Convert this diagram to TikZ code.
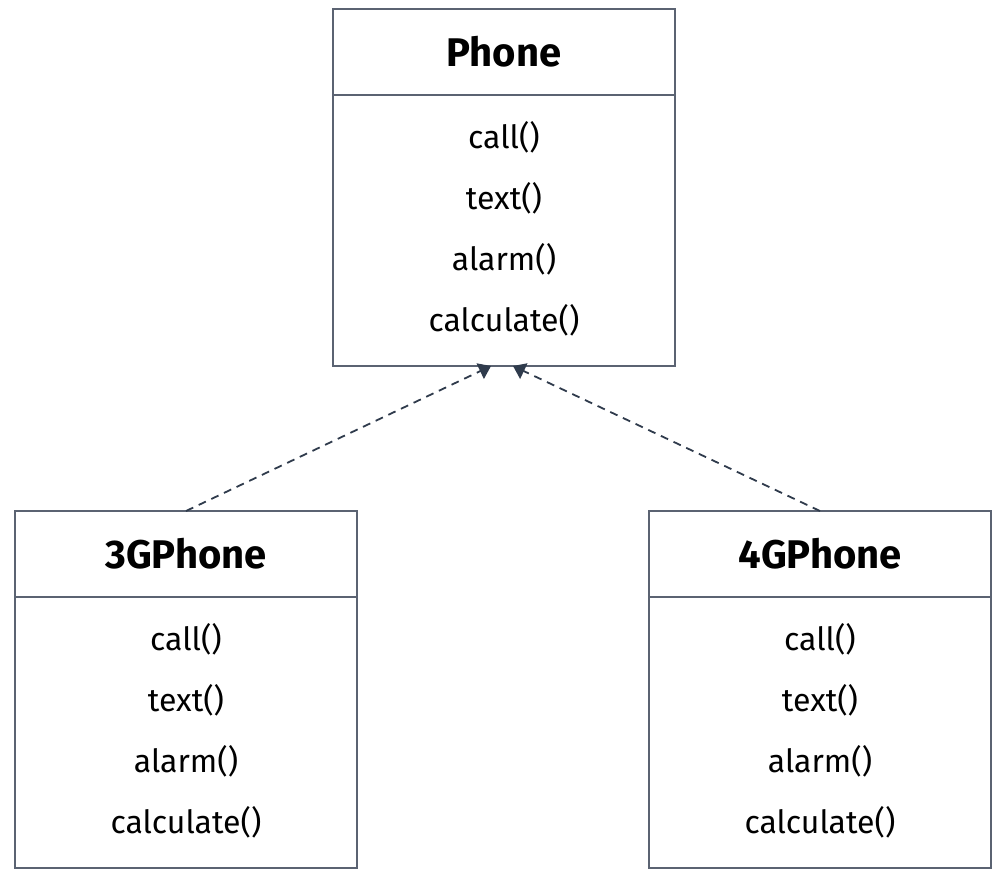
\documentclass[tikz,border=0pt]{standalone}
\usepackage{fontspec}
\setmainfont{Fira Sans}
\usetikzlibrary{positioning, arrows.meta, calc}

\begin{document}
\begin{tikzpicture}[x=0.5pt, y=-0.5pt,
    classhead/.style={draw=boxgray, line width=1pt, minimum width=171pt, minimum height=43pt,
        inner sep=0pt, outer sep=0pt, font=\fontsize{20}{24}\selectfont\bfseries},
    classbody/.style={draw=boxgray, line width=1pt, minimum width=171pt, minimum height=135.5pt,
        inner sep=0pt, outer sep=0pt},
    method/.style={font=\fontsize{16}{19}\selectfont},
    realize/.style={dashed, dash pattern=on 4pt off 3pt, line width=0.9pt, draw=arrowgray,
        -{Triangle[length=6pt, width=8.5pt]}}]
        % Định nghĩa màu sắc
        \definecolor{boxgray}{RGB}{91, 99, 114}
        \definecolor{arrowgray}{RGB}{47, 59, 76}

        \useasboundingbox (0,0) rectangle (1005,878);

        % 1. Lớp cha Phone
        \node[classhead] (phone) at (504, 52) {Phone};
        \node[classbody, below=0pt of phone] (phonebody) {};

        % 2. Hai lớp con
        \node[classhead] (phone3g) at (186, 554) {3GPhone};
        \node[classbody, below=0pt of phone3g] (phone3gbody) {};

        \node[classhead] (phone4g) at (820, 554) {4GPhone};
        \node[classbody, below=0pt of phone4g] (phone4gbody) {};

        % 3. Các phương thức trong mỗi lớp
        \foreach \cls in {phone, phone3g, phone4g} {
            \foreach \op [count=\i from 0] in {call(), text(), alarm(), calculate()} {
                \node[method] (\cls op\i) at ($(\cls.south)+(0, 42+\i*61)$) {\op};
            }
        }

        % 4. Mũi tên nét đứt (hiện thực hóa)
        \draw[realize] (phone3g.north) -- ($(phonebody.south)+(-13, 0)$);
        \draw[realize] (phone4g.north) -- ($(phonebody.south)+(9, 0)$);

    \end{tikzpicture}
\end{document}
